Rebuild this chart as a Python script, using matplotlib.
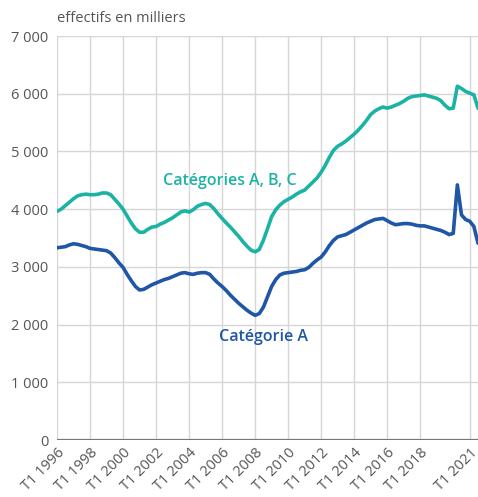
import numpy as np
import matplotlib.pyplot as plt

# quarterly values, T1 1996 -> T3 2021 (thousands)
cat_a = [
    3330, 3340, 3350, 3380,  # 1996
    3400, 3390, 3370, 3350,  # 1997
    3320, 3310, 3300, 3290,  # 1998
    3280, 3240, 3160, 3070,  # 1999
    2990, 2870, 2760, 2660,  # 2000
    2600, 2610, 2650, 2690,  # 2001
    2720, 2750, 2780, 2800,  # 2002
    2830, 2860, 2890, 2900,  # 2003
    2880, 2870, 2890, 2900,  # 2004
    2900, 2870, 2790, 2720,  # 2005
    2660, 2590, 2510, 2440,  # 2006
    2370, 2310, 2250, 2200,  # 2007
    2160, 2190, 2300, 2480,  # 2008
    2660, 2780, 2860, 2890,  # 2009
    2900, 2910, 2920, 2940,  # 2010
    2950, 2990, 3060, 3120,  # 2011
    3170, 3260, 3370, 3460,  # 2012
    3520, 3540, 3560, 3600,  # 2013
    3640, 3680, 3720, 3760,  # 2014
    3790, 3820, 3830, 3840,  # 2015
    3800, 3760, 3730, 3740,  # 2016
    3750, 3750, 3740, 3720,  # 2017
    3710, 3710, 3690, 3670,  # 2018
    3650, 3630, 3600, 3560,  # 2019
    3580, 4420, 3900, 3820,  # 2020
    3790, 3700, 3410,        # 2021
]

cat_abc = [
    3960, 4000, 4060, 4120,  # 1996
    4180, 4230, 4250, 4260,  # 1997
    4250, 4250, 4260, 4280,  # 1998
    4280, 4250, 4170, 4090,  # 1999
    4000, 3880, 3760, 3660,  # 2000
    3600, 3600, 3650, 3690,  # 2001
    3700, 3740, 3770, 3810,  # 2002
    3850, 3900, 3950, 3970,  # 2003
    3950, 3990, 4050, 4080,  # 2004
    4100, 4080, 4010, 3920,  # 2005
    3840, 3760, 3690, 3610,  # 2006
    3530, 3440, 3360, 3290,  # 2007
    3260, 3300, 3460, 3660,  # 2008
    3870, 3990, 4070, 4130,  # 2009
    4170, 4210, 4260, 4300,  # 2010
    4330, 4400, 4470, 4540,  # 2011
    4640, 4760, 4900, 5020,  # 2012
    5090, 5130, 5180, 5240,  # 2013
    5300, 5370, 5450, 5540,  # 2014
    5640, 5700, 5740, 5770,  # 2015
    5750, 5770, 5800, 5830,  # 2016
    5870, 5920, 5950, 5960,  # 2017
    5970, 5980, 5960, 5940,  # 2018
    5920, 5880, 5800, 5740,  # 2019
    5750, 6130, 6090, 6040,  # 2020
    6010, 5980, 5750,        # 2021
]

tick_years = [1996, 1998, 2000, 2002, 2004, 2006, 2008, 2010,
              2012, 2014, 2016, 2018, 2021]
tick_labels = ['T1 %d' % y for y in tick_years]
y_ticks = [0, 1000, 2000, 3000, 4000, 5000, 6000, 7000]

TEAL = '#1cb3a4'
BLUE = '#1f57a6'
GREY = '#555555'

plt.rcParams['font.family'] = ['Open Sans', 'DejaVu Sans']

t = 1996 + np.arange(len(cat_a)) / 4.0

fig = plt.figure(figsize=(4.78, 4.97), dpi=100)
ax = fig.add_axes([57 / 478, 57 / 497, 1 - 57 / 478, 404 / 497])

ax.plot(t, cat_abc, color=TEAL, lw=2.6, solid_capstyle='round', zorder=3)
ax.plot(t, cat_a, color=BLUE, lw=2.6, solid_capstyle='round', zorder=3)

ax.set_xlim(1996, t[-1])
ax.set_ylim(0, 7000)
ax.set_xticks(tick_years)
ax.set_xticklabels(tick_labels, rotation=45, ha='right', rotation_mode='anchor',
                   fontsize=10.5, color=GREY)
ax.set_yticks(y_ticks)
ax.set_yticklabels(['{:,}'.format(v).replace(',', ' ') for v in y_ticks],
                   fontsize=10.5, color=GREY)
ax.tick_params(length=0, pad=6)
ax.tick_params(axis='x', pad=4)

ax.grid(True, color='#d6d6d6', lw=1)
ax.set_axisbelow(True)
for s in ax.spines.values():
    s.set_visible(False)
ax.axhline(0, color='#777777', lw=1.6, zorder=2)

ax.text(2006.45, 4490, 'Catégories A, B, C', color=TEAL, fontsize=11.5,
        fontweight='semibold', ha='center', va='center')
ax.text(2008.5, 1780, 'Catégorie A', color=BLUE, fontsize=11.5,
        fontweight='semibold', ha='center', va='center')

fig.text(57 / 478, 1 - 18 / 497, 'effectifs en milliers', color=GREY,
         fontsize=10.5, ha='left', va='center')

fig.savefig('out.png', dpi=100)
